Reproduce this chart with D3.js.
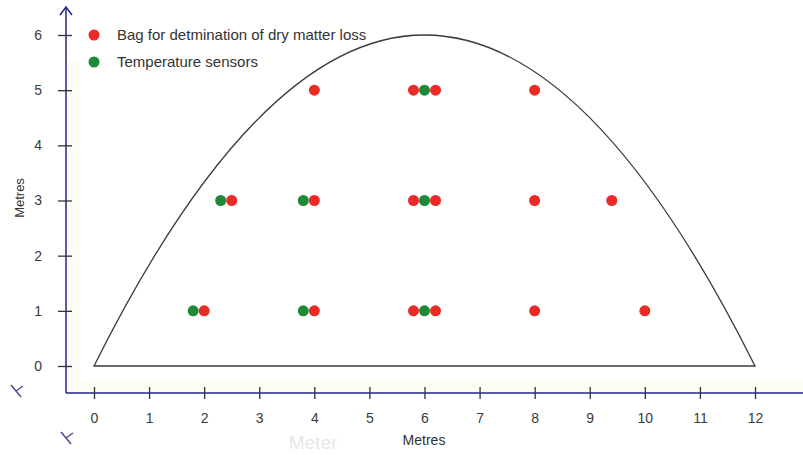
<!DOCTYPE html>
<html>
<head>
<meta charset="utf-8">
<script src="https://cdn.jsdelivr.net/npm/d3@7"></script>
<style>
  body { margin: 0; background: #fff; }
  text { font-family: "Liberation Sans", Arial, sans-serif; }
</style>
</head>
<body>
<div id="chart"></div>
<script>
// data
var xTicks = [0, 1, 2, 3, 4, 5, 6, 7, 8, 9, 10, 11, 12];
var yTicks = [0, 1, 2, 3, 4, 5, 6];
var bagX = [4, 5.8, 6.2, 8, 2.5, 4, 5.8, 6.2, 8, 9.4, 2, 4, 5.8, 6.2, 8, 10];
var bagY = [5, 5, 5, 5, 3, 3, 3, 3, 3, 3, 1, 1, 1, 1, 1, 1];
var sensorX = [6, 2.3, 3.8, 6, 1.8, 3.8, 6];
var sensorY = [5, 3, 3, 3, 1, 1, 1];
// pile outline: base from 0 to 12, top at 6 (quadratic curve control point)
var pileBase = [0, 12];
var pileControl = [6, 12];
var legendLabels = ["Bag for detmination of dry matter loss", "Temperature sensors"];

var w = 803, h = 455;
var red = "#ea2a26", green = "#1f8a36", navy = "#23238a";

var svg = d3.select("#chart").append("svg")
  .attr("width", w)
  .attr("height", h);

var x = d3.scaleLinear().domain([0, 12]).range([94, 755]);
var y = d3.scaleLinear().domain([0, 6]).range([366, 35]);

// faint bands along the axes
svg.append("rect").attr("x", 67).attr("y", 60).attr("width", 12).attr("height", 332).attr("fill", "#fcfbf4");
svg.append("rect").attr("x", 67).attr("y", 380).attr("width", 736).attr("height", 12).attr("fill", "#fcfbf4");

// pile outline
var p = d3.path();
p.moveTo(x(pileBase[0]), y(0));
p.quadraticCurveTo(x(pileControl[0]), y(pileControl[1]), x(pileBase[1]), y(0));
p.closePath();
svg.append("path")
  .attr("d", p.toString())
  .attr("fill", "none")
  .attr("stroke", "#3a3a3a")
  .attr("stroke-width", 1.3);

// axis lines
svg.append("line").attr("x1", 66).attr("x2", 66).attr("y1", 7).attr("y2", 393)
  .attr("stroke", navy).attr("stroke-width", 1.5);
svg.append("line").attr("x1", 66).attr("x2", 803).attr("y1", 393).attr("y2", 393)
  .attr("stroke", navy).attr("stroke-width", 1.5);
svg.append("path").attr("d", "M60,15L66,7L72,15")
  .attr("fill", "none").attr("stroke", navy).attr("stroke-width", 1.5);

// odd little marks
[[11, 385], [61, 432]].forEach(function(o){
  svg.append("path")
    .attr("d", "M" + o[0] + "," + o[1] + "l10,12M" + (o[0] + 5) + "," + (o[1] + 6) + "l7,-5")
    .attr("fill", "none").attr("stroke", "#4a4a92").attr("stroke-width", 1.5);
});

// axes
var xAxis = svg.append("g")
  .attr("transform", "translate(0,387)")
  .call(d3.axisBottom(x).tickValues(xTicks).tickSize(12).tickPadding(14).tickFormat(d3.format("d")));
var yAxis = svg.append("g")
  .attr("transform", "translate(72,0)")
  .call(d3.axisLeft(y).tickValues(yTicks).tickSize(14).tickPadding(16).tickFormat(d3.format("d")));
[xAxis, yAxis].forEach(function(g){
  g.select(".domain").remove();
  g.selectAll("line").attr("stroke", "#333").attr("stroke-width", 1.3);
  g.selectAll("text").attr("fill", "#3a3a3a").attr("font-size", 14)
    .attr("font-family", "Liberation Sans, Arial, sans-serif");
});

// faded watermark
svg.append("text").attr("x", 313).attr("y", 449).attr("text-anchor", "middle")
  .attr("font-size", 19).attr("fill", "#e8e8e8").text("Meter");

// titles
svg.append("text").attr("x", 424).attr("y", 445).attr("text-anchor", "middle")
  .attr("font-size", 14).attr("fill", "#333").text("Metres");
svg.append("text").attr("transform", "translate(24,198) rotate(-90)").attr("text-anchor", "middle")
  .attr("font-size", 13).attr("fill", "#333").text("Metres");

// points
var bags = d3.zip(bagX, bagY);
var sensors = d3.zip(sensorX, sensorY);
svg.selectAll("circle.bag").data(bags).enter().append("circle")
  .attr("class", "bag")
  .attr("cx", function(d){ return x(d[0]); })
  .attr("cy", function(d){ return y(d[1]); })
  .attr("r", 5.5)
  .attr("fill", red);
svg.selectAll("circle.sensor").data(sensors).enter().append("circle")
  .attr("class", "sensor")
  .attr("cx", function(d){ return x(d[0]); })
  .attr("cy", function(d){ return y(d[1]); })
  .attr("r", 5.5)
  .attr("fill", green);

// legend
var legend = svg.selectAll("g.legend").data(legendLabels).enter().append("g")
  .attr("class", "legend")
  .attr("transform", function(d, i){ return "translate(94," + (35 + i * 27) + ")"; });
legend.append("circle").attr("r", 5.5).attr("fill", function(d, i){ return i == 0 ? red : green; });
legend.append("text").attr("x", 23).attr("y", 5).attr("font-size", 15).attr("fill", "#333")
  .text(function(d){ return d; });
</script>
</body>
</html>
